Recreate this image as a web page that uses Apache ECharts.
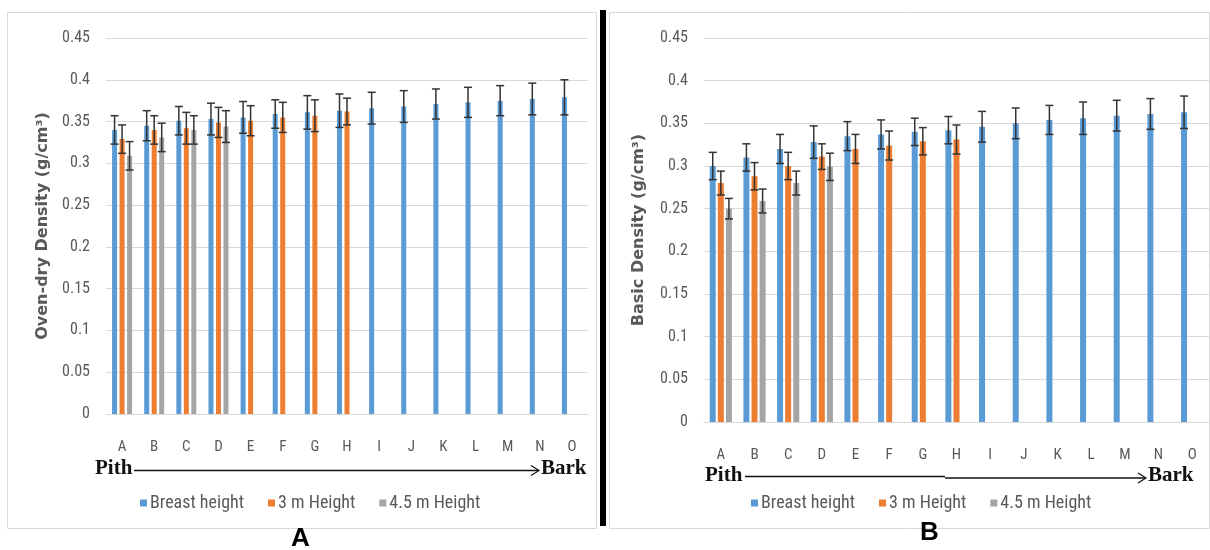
<!DOCTYPE html>
<html>
<head>
<meta charset="utf-8">
<script src="https://cdn.jsdelivr.net/npm/echarts@6/dist/echarts.min.js"></script>
<style>
html,body{margin:0;padding:0;background:#fff;}
#chart{width:1210px;height:550px;}
</style>
</head>
<body>
<div id="chart"></div>
<script>
// ---------- data ----------
const categories = ['A','B','C','D','E','F','G','H','I','J','K','L','M','N','O'];
const seriesNames = ['Breast height','3 m Height','4.5 m Height'];
const yTicks = [0,0.05,0.1,0.15,0.2,0.25,0.3,0.35,0.4,0.45];

// Panel A: oven-dry density
const ovenBreast    = [0.340,0.345,0.351,0.353,0.355,0.359,0.361,0.363,0.366,0.368,0.371,0.373,0.375,0.377,0.379];
const ovenBreastErr = [0.017,0.018,0.017,0.019,0.019,0.017,0.020,0.020,0.019,0.019,0.018,0.018,0.018,0.019,0.021];
const oven3m        = [0.329,0.340,0.342,0.349,0.351,0.355,0.357,0.362];
const oven3mErr     = [0.017,0.017,0.019,0.018,0.018,0.018,0.019,0.016];
const oven45m       = [0.309,0.331,0.340,0.344];
const oven45mErr    = [0.017,0.017,0.017,0.019];

// Panel B: basic density
const basicBreast    = [0.300,0.310,0.320,0.328,0.335,0.337,0.340,0.342,0.346,0.350,0.354,0.356,0.359,0.361,0.363];
const basicBreastErr = [0.016,0.016,0.017,0.019,0.017,0.017,0.016,0.016,0.018,0.018,0.017,0.019,0.018,0.018,0.019];
const basic3m        = [0.280,0.288,0.300,0.311,0.320,0.324,0.329,0.331];
const basic3mErr     = [0.014,0.016,0.016,0.015,0.017,0.017,0.016,0.017];
const basic45m       = [0.250,0.259,0.280,0.299];
const basic45mErr    = [0.012,0.014,0.014,0.016];

// ---------- styling ----------
const colors = ['#5B9BD5','#ED7D31','#A5A5A5'];
const axisFont = "'Liberation Sans Narrow','Roboto Condensed',Roboto,'Open Sans',sans-serif";
const textGray = '#595959';
const errColor = '#333333';

const chart = echarts.init(document.getElementById('chart'));

function errData(vals, errs){
  return vals.map((v,i)=>[i, v-errs[i], v+errs[i]]);
}
function errRender(offset, cap){
  return function(params, api){
    const x = api.value(0);
    const lo = api.coord([x, api.value(1)]);
    const hi = api.coord([x, api.value(2)]);
    const cx = lo[0] + offset;
    const style = {stroke: errColor, lineWidth: 1.5};
    return {type:'group', children:[
      {type:'line', shape:{x1:cx, y1:lo[1], x2:cx, y2:hi[1]}, style},
      {type:'line', shape:{x1:cx-cap, y1:lo[1], x2:cx+cap, y2:lo[1]}, style},
      {type:'line', shape:{x1:cx-cap, y1:hi[1], x2:cx+cap, y2:hi[1]}, style}
    ]};
  };
}

function makeAxes(idx, yName){
  const x = {
    type:'category', data:categories, gridIndex:idx,
    axisLine:{show:true, lineStyle:{color:'#d9d9d9', width:1}},
    axisTick:{show:false},
    axisLabel:{color:textGray, fontSize:15, fontFamily:axisFont, margin:26}
  };
  const y = {
    type:'value', gridIndex:idx, min:0, max:0.45, interval:0.05,
    axisLine:{show:false}, axisTick:{show:false},
    splitLine:{show:true, lineStyle:{color:'#d9d9d9', width:1}},
    axisLabel:{color:textGray, fontSize:16, fontFamily:axisFont, margin:16,
      formatter: v => { const t = yTicks.find(k => Math.abs(k-v)<1e-9); return t===undefined ? '' : String(t); }},
    name:yName, nameLocation:'middle', nameGap: idx===0 ? 55 : 57, nameRotate:90,
    nameTextStyle:{color:textGray, fontSize:16, fontWeight:'bold', fontFamily:"'DejaVu Sans',Verdana,sans-serif"}
  };
  return [x,y];
}

const [x0,y0] = makeAxes(0, 'Oven-dry Density (g/cm³)');
const [x1,y1] = makeAxes(1, 'Basic Density (g/cm³)');

function barSeries(idx, vals, name, color, bw, gap){
  return {type:'bar', name, xAxisIndex:idx, yAxisIndex:idx, data:vals,
    barWidth:bw, barGap:gap, itemStyle:{color}, z:2, animation:false};
}
function errSeries(idx, vals, errs, offset, cap){
  return {type:'custom', xAxisIndex:idx, yAxisIndex:idx, data:errData(vals, errs),
    renderItem: errRender(offset, cap), z:5, silent:true, animation:false,
    encode:{x:0, y:[1,2]}};
}

const bwA = 5, gapA = '50%', stepA = 7.5;
const bwB = 6, gapB = '35%', stepB = 8.1;

const series = [
  barSeries(0, ovenBreast, seriesNames[0], colors[0], bwA, gapA),
  barSeries(0, oven3m, seriesNames[1], colors[1], bwA, gapA),
  barSeries(0, oven45m, seriesNames[2], colors[2], bwA, gapA),
  errSeries(0, ovenBreast, ovenBreastErr, -stepA, 4),
  errSeries(0, oven3m, oven3mErr, 0, 4),
  errSeries(0, oven45m, oven45mErr, stepA, 4),
  barSeries(1, basicBreast, seriesNames[0], colors[0], bwB, gapB),
  barSeries(1, basic3m, seriesNames[1], colors[1], bwB, gapB),
  barSeries(1, basic45m, seriesNames[2], colors[2], bwB, gapB),
  errSeries(1, basicBreast, basicBreastErr, -stepB, 4),
  errSeries(1, basic3m, basic3mErr, 0, 4),
  errSeries(1, basic45m, basic45mErr, stepB, 4)
];

const legendBase = {
  data: seriesNames, icon:'rect', itemWidth:7, itemHeight:7, itemGap:24,
  textStyle:{color:textGray, fontSize:18, fontFamily:axisFont, padding:[0,0,0,-2]}, selectedMode:false
};

const serif = "'Liberation Serif','DejaVu Serif',serif";
function arrowHead(x, y){
  return {type:'polyline', shape:{points:[[x-8,y-5],[x,y],[x-8,y+5]]}, style:{stroke:'#111', lineWidth:1.2, fill:null}};
}

const option = {
  backgroundColor:'#ffffff',
  animation:false,
  color: colors,
  grid:[
    {left:106, top:38, width:482, height:376, containLabel:false},
    {left:704, top:38, width:505, height:384, containLabel:false}
  ],
  xAxis:[x0,x1],
  yAxis:[y0,y1],
  legend:[
    Object.assign({}, legendBase, {left:135, top:489}),
    Object.assign({}, legendBase, {left:746, top:489})
  ],
  series,
  graphic:[
    // frames
    {type:'rect', shape:{x:7.5, y:12.5, width:589, height:516}, style:{fill:null, stroke:'#d9d9d9', lineWidth:1}, z:-1},
    {type:'rect', shape:{x:609.5, y:12.5, width:600, height:516}, style:{fill:null, stroke:'#d9d9d9', lineWidth:1}, z:-1},
    // separator
    {type:'rect', shape:{x:600, y:10, width:6, height:516}, style:{fill:'#000'}},
    // panel A pith/bark
    {type:'text', left:95, top:458, style:{text:'Pith', font:"bold 21px "+serif, fill:'#111'}},
    {type:'line', shape:{x1:134, y1:470.5, x2:538, y2:470.5}, style:{stroke:'#111', lineWidth:1.3}},
    arrowHead(539, 470.5),
    {type:'text', left:541, top:458, style:{text:'Bark', font:"bold 21px "+serif, fill:'#111'}},
    // panel B pith/bark
    {type:'text', left:705, top:465, style:{text:'Pith', font:"bold 21px "+serif, fill:'#111'}},
    {type:'line', shape:{x1:745, y1:476.5, x2:945, y2:476.5}, style:{stroke:'#111', lineWidth:1.3}},
    {type:'line', shape:{x1:945, y1:478, x2:1145, y2:478}, style:{stroke:'#111', lineWidth:1.3}},
    arrowHead(1146, 478),
    {type:'text', left:1148, top:465, style:{text:'Bark', font:"bold 21px "+serif, fill:'#111'}},
    // panel letters
    {type:'text', left:291, top:526, style:{text:'A', font:"bold 26px 'Liberation Sans',Arial,sans-serif", fill:'#000'}},
    {type:'text', left:920, top:520, style:{text:'B', font:"bold 26px 'Liberation Sans',Arial,sans-serif", fill:'#000'}}
  ]
};
chart.setOption(option);
</script>
</body>
</html>
